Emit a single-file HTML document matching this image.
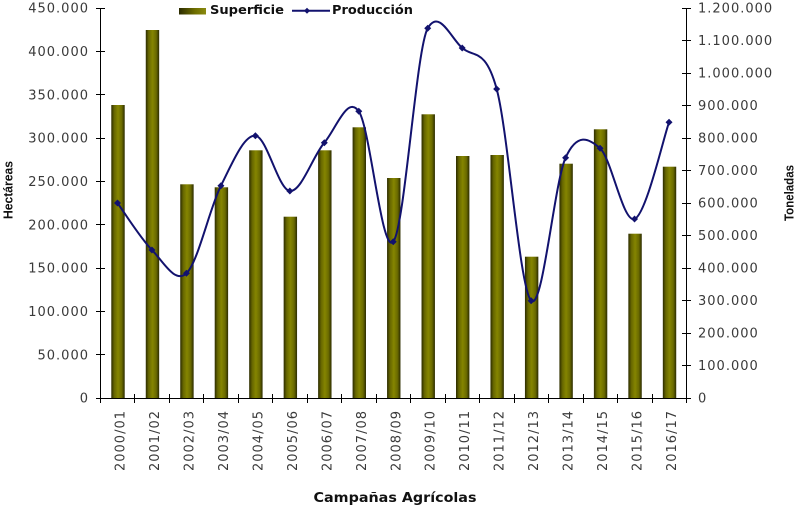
<!DOCTYPE html>
<html>
<head>
<meta charset="utf-8">
<style>
html,body{margin:0;padding:0;background:#fff;}
svg{display:block;}
.tl{font-family:"DejaVu Sans","Liberation Sans",sans-serif;font-size:13px;fill:#3a3a3a;letter-spacing:1px;}
.ttl{font-family:"Liberation Sans",Arial,sans-serif;font-weight:bold;font-size:13px;fill:#111;}
.lg{font-family:"DejaVu Sans","Liberation Sans",sans-serif;font-weight:bold;font-size:12px;fill:#111;}
</style>
</head>
<body>
<svg width="800" height="507" viewBox="0 0 800 507" xmlns="http://www.w3.org/2000/svg">
<defs>
<linearGradient id="bg" x1="0" y1="0" x2="1" y2="0">
<stop offset="0" stop-color="#2b2b00"/>
<stop offset="0.22" stop-color="#666600"/>
<stop offset="0.5" stop-color="#858500"/>
<stop offset="0.78" stop-color="#6a6a00"/>
<stop offset="1" stop-color="#2b2b00"/>
</linearGradient>
<linearGradient id="lgs" x1="0" y1="0" x2="1" y2="0">
<stop offset="0" stop-color="#2b2b00"/>
<stop offset="0.6" stop-color="#6f6f00"/>
<stop offset="1" stop-color="#8a8a10"/>
</linearGradient>
</defs>
<rect width="800" height="507" fill="#fff"/>

<!-- Bars -->
<g fill="url(#bg)">
<rect x="111.3" y="105" width="13.4" height="293"/>
<rect x="145.77" y="30" width="13.4" height="368"/>
<rect x="180.24" y="184.3" width="13.4" height="213.7"/>
<rect x="214.71" y="187.3" width="13.4" height="210.7"/>
<rect x="249.18" y="150.3" width="13.4" height="247.7"/>
<rect x="283.65" y="216.7" width="13.4" height="181.3"/>
<rect x="318.12" y="150.3" width="13.4" height="247.7"/>
<rect x="352.59" y="127.3" width="13.4" height="270.7"/>
<rect x="387.06" y="178" width="13.4" height="220"/>
<rect x="421.53" y="114.3" width="13.4" height="283.7"/>
<rect x="456" y="156" width="13.4" height="242"/>
<rect x="490.47" y="155" width="13.4" height="243"/>
<rect x="524.94" y="256.7" width="13.4" height="141.3"/>
<rect x="559.41" y="163.7" width="13.4" height="234.3"/>
<rect x="593.88" y="129.3" width="13.4" height="268.7"/>
<rect x="628.35" y="233.7" width="13.4" height="164.3"/>
<rect x="662.82" y="166.7" width="13.4" height="231.3"/>
</g>

<!-- Axes -->
<g stroke="#000" stroke-width="1" fill="none" shape-rendering="crispEdges">
<line x1="100.5" y1="8" x2="100.5" y2="398"/>
<line x1="686.5" y1="8" x2="686.5" y2="398"/>
<line x1="100" y1="398.5" x2="687" y2="398.5"/>
<line x1="96" y1="398.5" x2="105" y2="398.5"/>
<line x1="96" y1="311.5" x2="105" y2="311.5"/>
<line x1="96" y1="224.5" x2="105" y2="224.5"/>
<line x1="96" y1="138.5" x2="105" y2="138.5"/>
<line x1="96" y1="51.5" x2="105" y2="51.5"/>
<line x1="96" y1="354.5" x2="105" y2="354.5"/>
<line x1="96" y1="268.5" x2="105" y2="268.5"/>
<line x1="96" y1="181.5" x2="105" y2="181.5"/>
<line x1="96" y1="94.5" x2="105" y2="94.5"/>
<line x1="96" y1="8.5" x2="105" y2="8.5"/>
<line x1="682" y1="398.5" x2="691" y2="398.5"/>
<line x1="682" y1="365.5" x2="691" y2="365.5"/>
<line x1="682" y1="333.5" x2="691" y2="333.5"/>
<line x1="682" y1="300.5" x2="691" y2="300.5"/>
<line x1="682" y1="268.5" x2="691" y2="268.5"/>
<line x1="682" y1="235.5" x2="691" y2="235.5"/>
<line x1="682" y1="203.5" x2="691" y2="203.5"/>
<line x1="682" y1="170.5" x2="691" y2="170.5"/>
<line x1="682" y1="138.5" x2="691" y2="138.5"/>
<line x1="682" y1="105.5" x2="691" y2="105.5"/>
<line x1="682" y1="73.5" x2="691" y2="73.5"/>
<line x1="682" y1="40.5" x2="691" y2="40.5"/>
<line x1="682" y1="8.5" x2="691" y2="8.5"/>
<line x1="100.5" y1="394" x2="100.5" y2="403"/>
<line x1="134.5" y1="394" x2="134.5" y2="403"/>
<line x1="169.5" y1="394" x2="169.5" y2="403"/>
<line x1="203.5" y1="394" x2="203.5" y2="403"/>
<line x1="238.5" y1="394" x2="238.5" y2="403"/>
<line x1="272.5" y1="394" x2="272.5" y2="403"/>
<line x1="307.5" y1="394" x2="307.5" y2="403"/>
<line x1="341.5" y1="394" x2="341.5" y2="403"/>
<line x1="376.5" y1="394" x2="376.5" y2="403"/>
<line x1="410.5" y1="394" x2="410.5" y2="403"/>
<line x1="445.5" y1="394" x2="445.5" y2="403"/>
<line x1="479.5" y1="394" x2="479.5" y2="403"/>
<line x1="514.5" y1="394" x2="514.5" y2="403"/>
<line x1="548.5" y1="394" x2="548.5" y2="403"/>
<line x1="583.5" y1="394" x2="583.5" y2="403"/>
<line x1="617.5" y1="394" x2="617.5" y2="403"/>
<line x1="652.5" y1="394" x2="652.5" y2="403"/>
<line x1="686.5" y1="394" x2="686.5" y2="403"/>
</g>

<!-- Line series -->
<path d="M117.5,203 C123.25,210.83 140.48,238.28 151.97,250 C163.46,261.72 174.95,284.02 186.44,273.3 C197.93,262.58 209.42,208.63 220.91,185.7 C232.4,162.77 243.89,134.82 255.38,135.7 C266.87,136.58 278.36,189.83 289.85,191 C301.34,192.17 312.83,155.98 324.32,142.7 C335.81,129.42 347.3,94.8 358.79,111.3 C370.28,127.8 381.77,255.53 393.26,241.7 C404.75,227.87 416.24,48.3 427.73,28.3 C439.22,8.3 450.71,37.88 462.2,48 C473.69,58.12 485.18,46.88 496.67,89 C508.16,131.12 519.65,289.25 531.14,300.7 C542.63,312.15 554.12,183.1 565.61,157.7 C577.1,132.3 588.57,138.08 600.08,148.3 C611.57,158.52 623.06,223.33 634.55,219 C646.04,214.67 663.28,138.42 669.02,122.3" fill="none" stroke="#12126e" stroke-width="2"/>
<g fill="#12126e">
<polygon points="117.5,199.5 121,203 117.5,206.5 114,203"/>
<polygon points="151.97,246.5 155.47,250 151.97,253.5 148.47,250"/>
<polygon points="186.44,269.8 189.94,273.3 186.44,276.8 182.94,273.3"/>
<polygon points="220.91,182.2 224.41,185.7 220.91,189.2 217.41,185.7"/>
<polygon points="255.38,132.2 258.88,135.7 255.38,139.2 251.88,135.7"/>
<polygon points="289.85,187.5 293.35,191 289.85,194.5 286.35,191"/>
<polygon points="324.32,139.2 327.82,142.7 324.32,146.2 320.82,142.7"/>
<polygon points="358.79,107.8 362.29,111.3 358.79,114.8 355.29,111.3"/>
<polygon points="393.26,238.2 396.76,241.7 393.26,245.2 389.76,241.7"/>
<polygon points="427.73,24.8 431.23,28.3 427.73,31.8 424.23,28.3"/>
<polygon points="462.2,44.5 465.7,48 462.2,51.5 458.7,48"/>
<polygon points="496.67,85.5 500.17,89 496.67,92.5 493.17,89"/>
<polygon points="531.14,297.2 534.64,300.7 531.14,304.2 527.64,300.7"/>
<polygon points="565.61,154.2 569.11,157.7 565.61,161.2 562.11,157.7"/>
<polygon points="600.08,144.8 603.58,148.3 600.08,151.8 596.58,148.3"/>
<polygon points="634.55,215.5 638.05,219 634.55,222.5 631.05,219"/>
<polygon points="669.02,118.8 672.52,122.3 669.02,125.8 665.52,122.3"/>
</g>

<!-- Left tick labels -->
<g class="tl" text-anchor="end">
<text x="89" y="12.7">450.000</text>
<text x="89" y="56">400.000</text>
<text x="89" y="99.4">350.000</text>
<text x="89" y="142.7">300.000</text>
<text x="89" y="186">250.000</text>
<text x="89" y="229.4">200.000</text>
<text x="89" y="272.7">150.000</text>
<text x="89" y="316">100.000</text>
<text x="89" y="359.4">50.000</text>
<text x="89" y="402.7">0</text>
</g>

<!-- Right tick labels -->
<g class="tl">
<text x="698" y="12.7">1.200.000</text>
<text x="698" y="45.2">1.100.000</text>
<text x="698" y="77.7">1.000.000</text>
<text x="698" y="110.2">900.000</text>
<text x="698" y="142.7">800.000</text>
<text x="698" y="175.2">700.000</text>
<text x="698" y="207.7">600.000</text>
<text x="698" y="240.2">500.000</text>
<text x="698" y="272.7">400.000</text>
<text x="698" y="305.2">300.000</text>
<text x="698" y="337.7">200.000</text>
<text x="698" y="370.2">100.000</text>
<text x="698" y="402.7">0</text>
</g>

<!-- Category labels -->
<g class="tl" text-anchor="end">
<text transform="translate(124.5,410) rotate(-90)">2000/01</text>
<text transform="translate(158.97,410) rotate(-90)">2001/02</text>
<text transform="translate(193.44,410) rotate(-90)">2002/03</text>
<text transform="translate(227.91,410) rotate(-90)">2003/04</text>
<text transform="translate(262.38,410) rotate(-90)">2004/05</text>
<text transform="translate(296.85,410) rotate(-90)">2005/06</text>
<text transform="translate(331.32,410) rotate(-90)">2006/07</text>
<text transform="translate(365.79,410) rotate(-90)">2007/08</text>
<text transform="translate(400.26,410) rotate(-90)">2008/09</text>
<text transform="translate(434.73,410) rotate(-90)">2009/10</text>
<text transform="translate(469.2,410) rotate(-90)">2010/11</text>
<text transform="translate(503.67,410) rotate(-90)">2011/12</text>
<text transform="translate(538.14,410) rotate(-90)">2012/13</text>
<text transform="translate(572.61,410) rotate(-90)">2013/14</text>
<text transform="translate(607.08,410) rotate(-90)">2014/15</text>
<text transform="translate(641.55,410) rotate(-90)">2015/16</text>
<text transform="translate(676.02,410) rotate(-90)">2016/17</text>
</g>

<!-- Axis titles -->
<text class="lg" x="313.5" y="502" textLength="163" lengthAdjust="spacingAndGlyphs" style="font-size:13px;">Campañas Agrícolas</text>
<text class="ttl" text-anchor="middle" transform="translate(12.5,190) rotate(-90)" textLength="58" lengthAdjust="spacingAndGlyphs">Hectáreas</text>
<text class="ttl" text-anchor="middle" transform="translate(793.5,193) rotate(-90)" textLength="56" lengthAdjust="spacingAndGlyphs">Toneladas</text>

<!-- Legend -->
<rect x="179" y="8" width="27" height="6.5" fill="url(#lgs)"/>
<text class="lg" x="210" y="13.8" textLength="74" lengthAdjust="spacingAndGlyphs">Superficie</text>
<line x1="292" y1="10.8" x2="330" y2="10.8" stroke="#12126e" stroke-width="2"/>
<polygon points="307,7.8 310,10.8 307,13.8 304,10.8" fill="#12126e"/>
<text class="lg" x="332" y="13.8" textLength="81" lengthAdjust="spacingAndGlyphs">Producción</text>
</svg>
</body>
</html>
